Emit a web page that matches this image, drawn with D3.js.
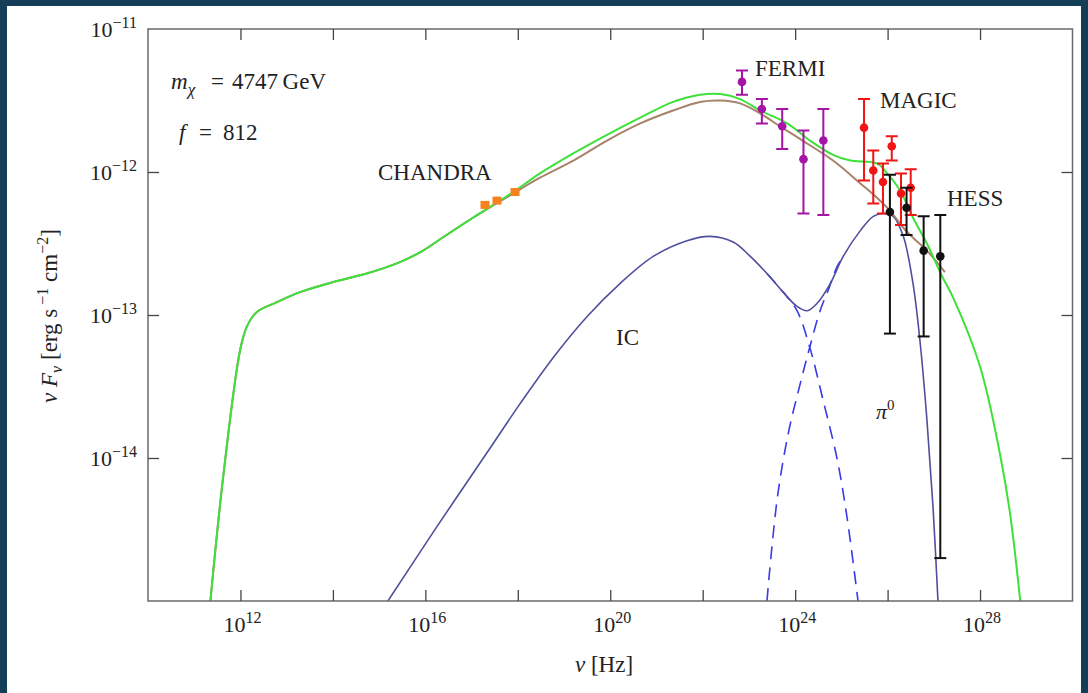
<!DOCTYPE html>
<html>
<head>
<meta charset="utf-8">
<script src="https://cdn.jsdelivr.net/npm/d3@7"></script>
<style>
  html, body { margin: 0; padding: 0; background: #143e58; }
  svg { display: block; }
  text { font-family: "Liberation Serif", "DejaVu Serif", serif; fill: #222; }
</style>
</head>
<body>
<svg id="chart" width="1088" height="693"></svg>
<script>
/* values, as log10(nu [Hz]) and log10(nu F_nu) */

// total model (green)
var totalLogNu   = [11.35, 11.62, 11.99, 12.14, 12.35, 12.79, 13.29, 14.00, 14.73, 15.45, 15.95, 16.32, 17.03, 17.90, 18.48, 19.20, 19.93, 20.65, 21.36, 21.94, 22.38, 22.81, 23.24, 23.83, 24.32, 24.82, 25.19, 25.77, 25.99, 26.27, 26.55, 26.85, 27.18, 27.42, 28.00, 28.43, 28.65, 28.87];
var totalLogFlux = [-15.0, -14.15, -13.25, -13.08, -12.98, -12.91, -12.84, -12.77, -12.71, -12.63, -12.55, -12.47, -12.32, -12.14, -12.01, -11.87, -11.74, -11.62, -11.51, -11.46, -11.455, -11.49, -11.57, -11.66, -11.78, -11.88, -11.92, -11.94, -12.01, -12.13, -12.32, -12.50, -12.73, -12.88, -13.36, -13.97, -14.39, -15.0];

// model without the pi0 bump (brown)
var brownLogNu   = [11.35, 11.62, 11.99, 12.14, 12.35, 12.79, 13.29, 14.00, 14.73, 15.45, 15.95, 16.32, 17.03, 17.90, 18.48, 19.20, 19.93, 20.65, 21.36, 21.94, 22.38, 22.81, 23.24, 23.67, 24.11, 24.82, 25.41, 25.77, 26.05, 26.34, 26.55, 26.85, 27.24];
var brownLogFlux = [-15.0, -14.15, -13.25, -13.08, -12.98, -12.91, -12.84, -12.77, -12.71, -12.63, -12.55, -12.47, -12.32, -12.15, -12.04, -11.92, -11.78, -11.66, -11.57, -11.51, -11.50, -11.52, -11.59, -11.68, -11.77, -11.92, -12.08, -12.18, -12.27, -12.39, -12.46, -12.55, -12.70];

// IC + pi0 (solid blue)
var gammaLogNu   = [15.19, 16.25, 17.34, 18.05, 18.76, 19.50, 20.21, 20.93, 21.66, 22.16, 22.66, 23.03, 23.39, 23.74, 24.04, 24.26, 24.47, 24.76, 25.04, 25.41, 25.69, 25.90, 26.12, 26.34, 26.55, 26.70, 26.85, 26.98, 27.09];
var gammaLogFlux = [-15.0, -14.48, -13.96, -13.62, -13.30, -13.01, -12.78, -12.59, -12.48, -12.45, -12.49, -12.59, -12.71, -12.84, -12.94, -12.97, -12.92, -12.78, -12.59, -12.41, -12.31, -12.29, -12.31, -12.45, -12.78, -13.18, -13.73, -14.33, -15.0];

// IC tail (dashed)
var icLogNu   = [23.39, 23.74, 24.04, 24.32, 24.60, 24.91, 25.12, 25.36];
var icLogFlux = [-12.71, -12.84, -12.97, -13.23, -13.59, -14.01, -14.41, -15.0];

// pi0 rise (dashed)
var pionLogNu   = [23.39, 23.61, 23.85, 24.11, 24.32, 24.54, 24.71, 24.91, 25.04];
var pionLogFlux = [-15.0, -14.29, -13.83, -13.48, -13.22, -12.97, -12.83, -12.66, -12.59];

// observations
var chandraLogNu   = [17.29, 17.55, 17.94];
var chandraLogFlux = [-12.23, -12.20, -12.14];

var fermiLogNu   = [22.85, 23.28, 23.72, 24.18, 24.61];
var fermiLogFlux = [-11.37, -11.56, -11.68, -11.91, -11.78];
var fermiLogHi   = [-11.29, -11.49, -11.56, -11.71, -11.56];
var fermiLogLo   = [-11.46, -11.66, -11.84, -12.29, -12.30];

var magicLogNu   = [25.49, 25.69, 25.90, 26.09, 26.29, 26.50];
var magicLogFlux = [-11.69, -11.99, -12.07, -11.82, -12.15, -12.11];
var magicLogHi   = [-11.49, -11.85, -11.94, -11.75, -12.01, -11.98];
var magicLogLo   = [-12.06, -12.22, -12.29, -11.92, -12.37, -12.30];

var hessLogNu   = [26.05, 26.41, 26.78, 27.14];
var hessLogFlux = [-12.28, -12.25, -12.55, -12.59];
var hessLogHi   = [-12.02, -12.11, -12.31, -12.30];
var hessLogLo   = [-13.13, -12.44, -13.15, -14.70];

// axes
var xTickExps  = [12, 14, 16, 18, 20, 22, 24, 26, 28];
var xLabelExps = [12, 16, 20, 24, 28];
var yTickExps  = [-14, -13, -12];
var yLabelExps = [-11, -12, -13, -14];

(function(){
var svg = d3.select("#chart");
function p10(e){ return Math.pow(10, e); }

// white page on the dark border
svg.append("rect")
    .attr("x", 7).attr("y", 6).attr("width", 1074).attr("height", 687)
    .attr("fill", "#ffffff");

var pLeft = 148, pRight = 1072.5, pTop = 29, pBottom = 601;

var x = d3.scaleLog().domain([1e10, 1e30]).range([pLeft, pRight]);
var y = d3.scaleLog().domain([1e-15, 1e-11]).range([pBottom, pTop]);

svg.append("clipPath").attr("id", "plotclip")
    .append("rect")
    .attr("x", pLeft).attr("y", pTop)
    .attr("width", pRight - pLeft).attr("height", pBottom - pTop);

var plot = svg.append("g").attr("clip-path", "url(#plotclip)");

function toPts(nus, fl){
    return nus.map(function(e, i){ return [p10(e), p10(fl[i])]; });
}

var line = d3.line()
    .x(function(d){ return x(d[0]); })
    .y(function(d){ return y(d[1]); })
    .curve(d3.curveCatmullRom.alpha(0.5));

// dashed components first
[[icLogNu, icLogFlux], [pionLogNu, pionLogFlux]].forEach(function(s){
    plot.append("path").datum(toPts(s[0], s[1]))
	.attr("d", line).attr("fill", "none")
	.attr("stroke", "#3a3aea").attr("stroke-width", 1.6)
	.attr("stroke-dasharray", "13,8");
});

plot.append("path").datum(toPts(gammaLogNu, gammaLogFlux))
    .attr("d", line).attr("fill", "none")
    .attr("stroke", "#4f4f9e").attr("stroke-width", 1.6);

plot.append("path").datum(toPts(brownLogNu, brownLogFlux))
    .attr("d", line).attr("fill", "none")
    .attr("stroke", "#a8826a").attr("stroke-width", 2);

plot.append("path").datum(toPts(totalLogNu, totalLogFlux))
    .attr("d", line).attr("fill", "none")
    .attr("stroke", "#3ee03a").attr("stroke-width", 2);

// error bars with dots
function errorSet(nus, fl, hi, lo, color){
    var g = plot.append("g");
    nus.forEach(function(e, i){
	var cx = x(p10(e));
	g.append("line")
	    .attr("x1", cx).attr("x2", cx)
	    .attr("y1", y(p10(hi[i]))).attr("y2", y(p10(lo[i])))
	    .attr("stroke", color).attr("stroke-width", 2);
	[hi[i], lo[i]].forEach(function(v){
	    g.append("line")
		.attr("x1", cx - 6).attr("x2", cx + 6)
		.attr("y1", y(p10(v))).attr("y2", y(p10(v)))
		.attr("stroke", color).attr("stroke-width", 2);
	});
	g.append("circle")
	    .attr("cx", cx).attr("cy", y(p10(fl[i])))
	    .attr("r", 4.3).attr("fill", color);
    });
}

errorSet(fermiLogNu, fermiLogFlux, fermiLogHi, fermiLogLo, "#a514a5");
errorSet(magicLogNu, magicLogFlux, magicLogHi, magicLogLo, "#f01414");
errorSet(hessLogNu, hessLogFlux, hessLogHi, hessLogLo, "#111111");

plot.selectAll("rect.chandra")
    .data(toPts(chandraLogNu, chandraLogFlux))
    .enter().append("rect")
    .attr("class", "chandra")
    .attr("x", function(d){ return x(d[0]) - 4.5; })
    .attr("y", function(d){ return y(d[1]) - 4; })
    .attr("width", 9).attr("height", 8)
    .attr("fill", "#f5821f");

// frame and inward ticks
svg.append("rect")
    .attr("x", pLeft).attr("y", pTop)
    .attr("width", pRight - pLeft).attr("height", pBottom - pTop)
    .attr("fill", "none").attr("stroke", "#6a6a6a").attr("stroke-width", 1.5);

function tickAxis(axis, tx, ty){
    var g = svg.append("g")
	.attr("transform", "translate(" + tx + "," + ty + ")")
	.call(axis);
    g.select(".domain").remove();
    g.selectAll(".tick line").attr("stroke", "#444").attr("stroke-width", 1.3);
    g.selectAll(".tick text").remove();
}

var xTickVals = xTickExps.map(p10);
var yTickVals = yTickExps.map(p10);
tickAxis(d3.axisBottom(x).tickValues(xTickVals).tickSize(-11), 0, pBottom);
tickAxis(d3.axisTop(x).tickValues(xTickVals).tickSize(-11), 0, pTop);
tickAxis(d3.axisLeft(y).tickValues(yTickVals).tickSize(-11), pLeft, 0);
tickAxis(d3.axisRight(y).tickValues(yTickVals).tickSize(-11), pRight, 0);

// power-of-ten labels
function powText(g, e){
    g.append("tspan").text("10");
    g.append("tspan").attr("dy", -9).attr("font-size", 16)
	.text(e < 0 ? "\u2212" + (-e) : String(e));
}

xLabelExps.forEach(function(e){
    var t = svg.append("text")
	.attr("x", x(p10(e)) + 2).attr("y", pBottom + 31)
	.attr("text-anchor", "middle").attr("font-size", 22);
    powText(t, e);
});

yLabelExps.forEach(function(e){
    var t = svg.append("text")
	.attr("x", 137).attr("y", y(p10(e)) + 8)
	.attr("text-anchor", "end").attr("font-size", 22);
    powText(t, e);
});

// axis titles
var xt = svg.append("text")
    .attr("x", 604).attr("y", 672)
    .attr("text-anchor", "middle").attr("font-size", 23);
xt.append("tspan").attr("font-style", "italic").text("\u03bd");
xt.append("tspan").text(" [Hz]");

var yt = svg.append("text")
    .attr("transform", "translate(57,316) rotate(-90)")
    .attr("text-anchor", "middle").attr("font-size", 23);
yt.append("tspan").attr("font-style", "italic").text("\u03bd F");
yt.append("tspan").attr("font-style", "italic").attr("font-size", 16).attr("dy", 5).text("\u03bd");
yt.append("tspan").attr("dy", -5).text(" [erg s");
yt.append("tspan").attr("font-size", 16).attr("dy", -9).text(" \u22121");
yt.append("tspan").attr("dy", 9).text(" cm");
yt.append("tspan").attr("font-size", 16).attr("dy", -9).text("\u22122");
yt.append("tspan").attr("dy", 9).text("]");

// in-plot annotations
function label(txt, lx, ly){
    svg.append("text").attr("x", lx).attr("y", ly)
	.attr("font-size", 23).text(txt);
}
label("CHANDRA", 378, 180);
label("FERMI", 755, 76);
label("MAGIC", 880, 108);
label("HESS", 947, 206);
label("IC", 616, 345);

var pi = svg.append("text").attr("x", 876).attr("y", 419).attr("font-size", 22);
pi.append("tspan").attr("font-style", "italic").text("\u03c0");
pi.append("tspan").attr("font-size", 15).attr("dy", -9).text("0");

var mt = svg.append("text").attr("y", 89).attr("font-size", 23);
mt.append("tspan").attr("x", 171).attr("font-style", "italic").text("m");
mt.append("tspan").attr("font-style", "italic").attr("font-size", 17).attr("dy", 6).text("\u03c7");
mt.append("tspan").attr("x", 211).attr("dy", -6).text("=");
mt.append("tspan").attr("x", 232).text("4747\u2009GeV");

var ft = svg.append("text").attr("y", 140).attr("font-size", 23);
ft.append("tspan").attr("x", 179).attr("font-style", "italic").text("f");
ft.append("tspan").attr("x", 199).text("=");
ft.append("tspan").attr("x", 223).text("812");
})();
</script>
</body>
</html>
